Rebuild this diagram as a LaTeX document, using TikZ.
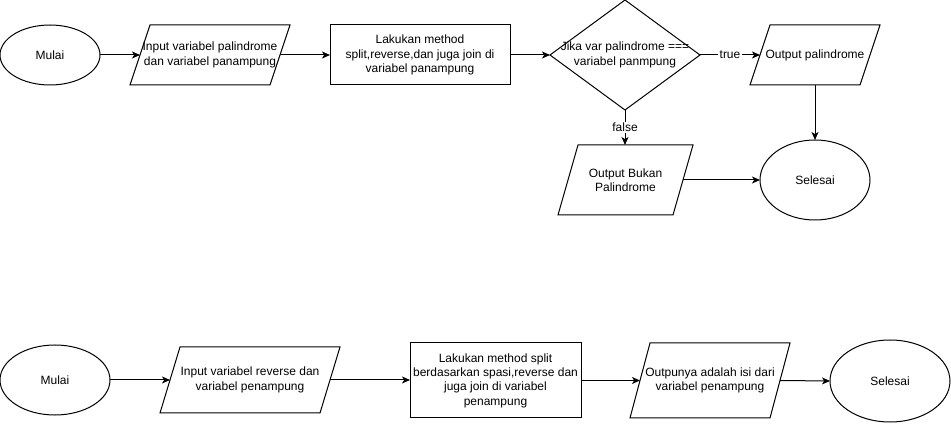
\documentclass[tikz,border=0pt]{standalone}
\usepackage{fontspec}
\setmainfont{Liberation Sans}
\usetikzlibrary{shapes.geometric,arrows.meta}
\newcommand\paraoutline[2]{\draw[shapeline] ([xshift=#2]#1.north west) -- (#1.north east) -- ([xshift=-#2]#1.south east) -- (#1.south west) -- cycle;}
\begin{document}
\begin{tikzpicture}[x=0.75pt,y=-0.75pt,
  base/.style={inner sep=0pt,outer sep=0pt,align=center,font=\fontsize{9}{10.8}\selectfont},
  shapeline/.style={line width=0.75pt,draw=black},
  term/.style={base,ellipse,shapeline},
  proc/.style={base,rectangle,shapeline},
  io/.style={base,rectangle},
  decision/.style={base,diamond,shapeline},
  txt/.style={base},
  lbl/.style={base,fill=white,inner sep=1pt},
  flow/.style={line width=0.75pt,-{Stealth[length=6pt,width=5.25pt,inset=1.6pt]}}
]
\useasboundingbox (0,0) rectangle (951,424);
\fill[white] (0,0) rectangle (951,424);

% top flow
\node[term,minimum width=75pt,minimum height=45pt] (m1) at (50,55) {Mulai};
\node[io,minimum width=120pt,minimum height=45pt] (p1) at (210,55) {Input variabel palindrome\\dan variabel panampung};
\paraoutline{p1}{15pt}
\node[proc,minimum width=135pt,minimum height=45pt] (r1) at (420,55) {Lakukan method\\split,reverse,dan juga join di\\variabel panampung};
\node[decision,minimum width=112.5pt,minimum height=82.5pt] (d1) at (625,55) {};
\node[txt] (d1t) at (d1.center) {Jika var palindrome ===\\variabel panmpung};
\node[io,minimum width=97.5pt,minimum height=45pt] (p2) at (815,55) {Output palindrome};
\paraoutline{p2}{15pt}
\node[term,minimum width=82.5pt,minimum height=60pt] (s1) at (815,180) {Selesai};
\node[io,minimum width=101.25pt,minimum height=52.5pt] (p3) at (625.5,180) {Output Bukan\\Palindrome};
\paraoutline{p3}{15pt}

\draw[flow] (m1.east) -- ([xshift=7.5pt]p1.west);
\draw[flow] ([xshift=-7.5pt]p1.east) -- (r1.west);
\draw[flow] (r1.east) -- (d1.west);
\draw[flow] (d1.east) -- node[lbl] (tlabel) {true} ([xshift=7.5pt]p2.west);
\draw[flow] (p2.south) -- (s1.north);
\draw[flow] (d1.south) -- node[lbl] (flabel) {false} (d1.south |- p3.north);
\draw[flow] ([xshift=-7.5pt]p3.east) -- (s1.west);

% bottom flow
\node[term,minimum width=82.5pt,minimum height=52.5pt] (m2) at (55,380) {Mulai};
\node[io,minimum width=135pt,minimum height=49.5pt] (p4) at (250,380) {Input variabel reverse dan\\variabel penampung};
\paraoutline{p4}{15pt}
\node[proc,minimum width=128.25pt,minimum height=56.25pt] (r2) at (495.5,380.5) {Lakukan method split\\berdasarkan spasi,reverse dan\\juga join di variabel\\penampung};
\node[io,minimum width=120pt,minimum height=56.25pt] (p5) at (710,380.5) {Outpunya adalah isi dari\\variabel penampung};
\paraoutline{p5}{15pt}
\node[term,minimum width=90pt,minimum height=61.5pt] (s2) at (890,381) {Selesai};

\draw[flow] (m2.east) -- ([xshift=7.5pt]p4.west);
\draw[flow] ([xshift=-7.5pt]p4.east) -- (r2.west |- p4.east);
\draw[flow] (r2.east) -- ([xshift=7.5pt]p5.west);
\draw[flow] ([xshift=-7.5pt]p5.east) -- (s2.west);
\end{tikzpicture}
\end{document}
